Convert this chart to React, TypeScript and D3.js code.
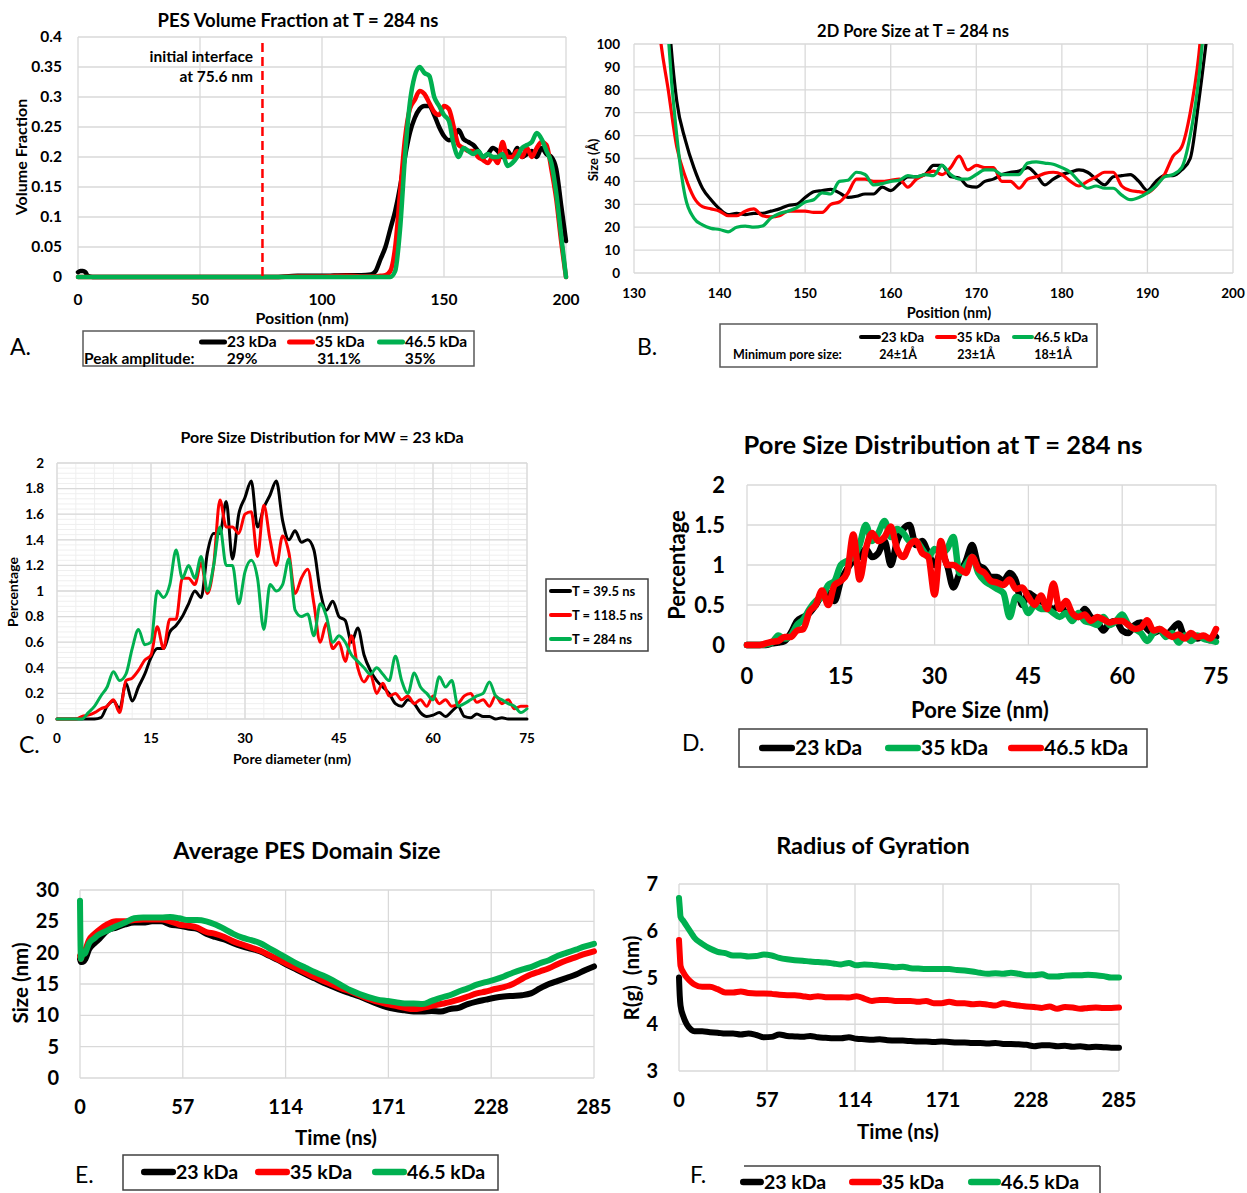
import React from "react";
import * as d3 from "d3";

const FONT = "Lato, 'Open Sans', 'DejaVu Sans', sans-serif";
const C_BLACK = "#000000";
const C_RED = "#ff0000";
const C_GREEN = "#00b050";
const C_GRID = "#d9d9d9";

// ---------------- labels ----------------
const mwLabels = ["23 kDa", "35 kDa", "46.5 kDa"];
const timeLabels = ["T = 39.5 ns", "T = 118.5 ns", "T = 284 ns"];
const peakAmplitude = ["29%", "31.1%", "35%"];
const minPoreSize = ["24±1Å", "23±1Å", "18±1Å"];

// ---------------- Panel A: PES volume fraction ----------------
const posA = [0, 1, 2, 3, 4, 6, 20, 40, 60, 80, 90, 100, 110, 116,
  120, 122, 124, 126, 128, 130, 132, 134, 136, 138,
  140, 142, 144, 146, 148, 150, 152, 154, 156, 158,
  160, 162, 164, 166, 168, 170, 172, 174, 176, 178,
  180, 182, 184, 186, 188, 190, 192, 194, 196, 198, 200];
const volA23 = [0.008, 0.01, 0.01, 0.008, 0.002, 0, 0, 0, 0, 0, 0.002, 0.002, 0.003, 0.003,
  0.004, 0.01, 0.03, 0.05, 0.08, 0.11, 0.15, 0.2, 0.24, 0.265,
  0.28, 0.285, 0.285, 0.27, 0.25, 0.235, 0.228, 0.232, 0.245, 0.23,
  0.225, 0.22, 0.21, 0.2, 0.205, 0.215, 0.21, 0.2, 0.21, 0.2,
  0.215, 0.2, 0.205, 0.21, 0.2, 0.215, 0.205, 0.2, 0.18, 0.12, 0.06];
const volA35 = [0, 0, 0, 0, 0, 0, 0, 0, 0, 0, 0.001, 0.001, 0.002, 0.001,
  0.001, 0.001, 0.002, 0.003, 0.01, 0.05, 0.14, 0.23, 0.28, 0.295,
  0.31, 0.305, 0.29, 0.275, 0.27, 0.285, 0.28, 0.25, 0.22, 0.215,
  0.21, 0.21, 0.2, 0.195, 0.19, 0.2, 0.19, 0.225, 0.2, 0.2,
  0.21, 0.2, 0.215, 0.2, 0.215, 0.225, 0.22, 0.18, 0.13, 0.06, 0];
const volA465 = [0, 0, 0, 0, 0, 0, 0, 0, 0, 0, 0, 0, 0, 0,
  0, 0, 0, 0, 0, 0.01, 0.08, 0.2, 0.29, 0.335,
  0.35, 0.34, 0.335, 0.3, 0.285, 0.27, 0.26, 0.22, 0.2, 0.215,
  0.21, 0.205, 0.21, 0.2, 0.205, 0.2, 0.2, 0.205, 0.185, 0.19,
  0.2, 0.215, 0.22, 0.225, 0.24, 0.23, 0.21, 0.19, 0.14, 0.07, 0];

// ---------------- Panel B: 2D pore size ----------------
const posB = [132, 133, 134, 135, 136, 137, 138, 139, 140, 141,
  142, 143, 144, 145, 146, 147, 148, 149, 150, 151,
  152, 153, 154, 155, 156, 157, 158, 159, 160, 161,
  162, 163, 164, 165, 166, 167, 168, 169, 170, 171,
  172, 173, 174, 175, 176, 177, 178, 179, 180, 181,
  182, 183, 184, 185, 186, 187, 188, 189, 190, 191,
  192, 193, 194, 195, 196, 197];
const poreB23 = [300, 180, 115, 75, 58, 46, 37, 32, 28, 25.5,
  26, 25.5, 26, 26, 27, 28, 29.5, 30, 33, 35.5,
  36, 36.5, 35, 33, 33.5, 34.5, 34.5, 37.5, 36, 39,
  42, 42, 43, 47, 47, 42, 41.5, 38, 37.5, 40,
  41, 43, 44, 44.5, 46, 43, 38.5, 41, 43, 44,
  45, 44, 41, 38.5, 42, 42.5, 43, 40, 36, 40,
  42.5, 42.5, 45, 50, 75, 105];
const poreB35 = [150, 105, 80, 55, 42, 33, 29, 28, 27, 25,
  25, 27, 28, 25, 24.5, 25, 27, 27, 27, 26.5,
  26.5, 30, 31, 35, 41, 41, 40, 40, 40.5, 41,
  37.5, 41, 43, 44.5, 43, 46, 51, 45, 47, 46,
  46, 40, 40, 37, 41, 42, 43.5, 44, 43, 40,
  38, 40, 42, 44, 44, 38, 36, 35.5, 35, 38,
  43, 51, 55, 70, 95, 140];
const poreB465 = [300, 200, 105, 60, 33, 24, 21, 19.5, 19, 18,
  20, 20.5, 20, 20.5, 24, 26, 27, 28.5, 31, 32,
  35, 34.5, 40, 40.5, 44, 43, 38.5, 39, 40, 40.5,
  42.5, 42, 43, 42.5, 47, 43, 41, 41, 43, 45,
  45, 43, 43, 43, 48, 48.5, 48, 47.5, 46, 44,
  40, 37, 38, 37, 37, 34, 32, 33, 35, 38,
  42, 43, 46, 60, 85, 125];

// ---------------- Panel C: pore size distribution, 23 kDa ----------------
const diamC = d3.range(0, 76);
const distC395 = [0, 0, 0, 0, 0, 0, 0, 0.01, 0.1, 0.14,
  0.08, 0.28, 0.14, 0.25, 0.35, 0.48, 0.55, 0.55, 0.68, 0.73,
  0.8, 0.9, 1.0, 0.95, 1.3, 1.45, 1.45, 1.7, 1.25, 1.6,
  1.73, 1.86, 1.5, 1.65, 1.75, 1.86, 1.55, 1.4, 1.47, 1.38,
  1.4, 1.32, 1.0, 0.85, 0.92, 0.8, 0.77, 0.6, 0.71, 0.5,
  0.38, 0.3, 0.25, 0.2, 0.12, 0.1, 0.15, 0.12, 0.05, 0.02,
  0.03, 0.05, 0.02, 0.06, 0.1, 0.02, 0.01, 0.04, 0.02, 0.02,
  0, 0.01, 0, 0, 0, 0];
const distC1185 = [0, 0, 0, 0, 0.02, 0.03, 0.05, 0.08, 0.1, 0.15,
  0.05, 0.3, 0.32, 0.38, 0.46, 0.5, 0.72, 0.55, 0.78, 0.78,
  1.1, 1.1, 1.05, 1.22, 0.98, 1.2, 1.71, 1.5, 1.5, 1.45,
  1.6, 1.62, 1.27, 1.67, 1.4, 1.2, 1.43, 1.3, 0.98, 1.1,
  1.17, 0.9, 0.6, 0.75, 0.55, 0.6, 0.45, 0.65, 0.4, 0.29,
  0.35, 0.2, 0.28, 0.18, 0.2, 0.15, 0.18, 0.12, 0.15, 0.1,
  0.18, 0.12, 0.15, 0.1, 0.12, 0.18, 0.2, 0.13, 0.15, 0.1,
  0.18, 0.12, 0.15, 0.08, 0.1, 0.1];
const distC284 = [0, 0, 0, 0, 0, 0.05, 0.1, 0.18, 0.25, 0.37,
  0.3, 0.35, 0.55, 0.7, 0.58, 0.6, 1.0, 0.95, 1.05, 1.32,
  1.1, 1.2, 1.1, 1.27, 1.0, 1.2, 1.5, 1.2, 1.2, 0.9,
  1.15, 1.24, 1.1, 0.7, 1.05, 1.0, 1.05, 1.25, 0.85, 0.8,
  0.82, 0.65, 0.9, 0.8, 0.6, 0.65, 0.6, 0.5, 0.45, 0.4,
  0.35, 0.4, 0.35, 0.3, 0.49, 0.3, 0.2, 0.36, 0.25, 0.2,
  0.15, 0.33, 0.25, 0.3, 0.1, 0.12, 0.15, 0.18, 0.2, 0.29,
  0.18, 0.15, 0.12, 0.1, 0.05, 0.08];

// ---------------- Panel D: pore size distribution at 284 ns ----------------
const sizeD = d3.range(0, 76);
const distD23 = [0, 0, 0, 0, 0.02, 0.03, 0.05, 0.15, 0.3, 0.35,
  0.4, 0.5, 0.62, 0.65, 0.55, 0.8, 0.95, 1.05, 1.1, 1.2,
  1.1, 1.15, 1.3, 1.0, 1.3, 1.45, 1.5, 1.25, 1.3, 1.15,
  1.0, 1.15, 1.0, 0.72, 0.9, 1.05, 1.25, 1.0, 0.95, 0.85,
  0.85, 0.8, 0.9, 0.8, 0.5, 0.65, 0.6, 0.55, 0.5, 0.45,
  0.5, 0.4, 0.38, 0.35, 0.45, 0.35, 0.3, 0.18, 0.28, 0.3,
  0.18, 0.15, 0.25, 0.28, 0.2, 0.15, 0.18, 0.12, 0.2, 0.27,
  0.1, 0.12, 0.08, 0.1, 0.06, 0.1];
const distD35 = [0, 0, 0, 0.01, 0.03, 0.12, 0.08, 0.12, 0.25, 0.32,
  0.45, 0.55, 0.6, 0.75, 0.8, 1.0, 1.05, 1.1, 1.25, 1.5,
  1.3, 1.4, 1.55, 1.35, 1.45, 1.4, 1.3, 1.3, 1.2, 1.1,
  1.2, 1.15, 1.2, 1.35, 0.9, 1.0, 1.1, 0.9, 0.8, 0.75,
  0.7, 0.65, 0.35, 0.6, 0.55, 0.4, 0.5, 0.45, 0.45, 0.4,
  0.35, 0.4, 0.3, 0.4, 0.3, 0.28, 0.25, 0.35, 0.25, 0.3,
  0.38, 0.25, 0.2, 0.15, 0.05, 0.15, 0.2, 0.1, 0.15, 0.03,
  0.12, 0.05, 0.12, 0.08, 0.06, 0.04];
const distD465 = [0, 0, 0, 0.02, 0.04, 0.05, 0.1, 0.1, 0.18, 0.2,
  0.42, 0.5, 0.68, 0.5, 0.75, 0.8, 0.9, 1.38, 0.82, 1.2,
  1.4, 1.3, 1.35, 1.48, 1.2, 1.1, 1.25, 1.3, 1.15, 1.1,
  0.63, 1.3, 1.0, 1.0, 0.95, 0.9, 1.1, 0.95, 0.9, 0.8,
  0.78, 0.75, 0.82, 0.7, 0.72, 0.6, 0.5, 0.62, 0.45, 0.77,
  0.45, 0.55, 0.4, 0.35, 0.38, 0.3, 0.35, 0.32, 0.28, 0.3,
  0.3, 0.25, 0.2, 0.22, 0.31, 0.18, 0.2, 0.15, 0.1, 0.13,
  0.08, 0.15, 0.1, 0.12, 0.08, 0.2];

// ---------------- Panels E & F: time series ----------------
const timeNs = [0, 0.5, 1, 3, 5, 8, 10, 15, 20, 25,
  30, 35, 40, 45, 50, 55, 60, 65, 70, 75,
  80, 85, 90, 95, 100, 105, 110, 115, 120, 125,
  130, 135, 140, 145, 150, 155, 160, 165, 170, 175,
  180, 185, 190, 195, 200, 205, 210, 215, 220, 225,
  230, 235, 240, 245, 250, 255, 260, 265, 270, 275,
  280, 285];
const domainE23 = [19, 18.5, 18.5, 19, 20.5, 21.5, 22, 23.5, 24, 24.5,
  24.8, 24.8, 25, 25, 24.5, 24.3, 24, 23.8, 23, 22.5,
  22.1, 21.5, 21, 20.6, 20.2, 19.5, 18.8, 18, 17.3, 16.6,
  15.9, 15.2, 14.6, 14, 13.5, 13, 12.4, 11.8, 11.3, 11,
  10.8, 10.6, 10.6, 10.7, 10.6, 11, 11.2, 11.8, 12.2, 12.5,
  12.8, 13, 13.1, 13.2, 13.5, 14.3, 15, 15.5, 16, 16.5,
  17.2, 17.8];
const domainE35 = [19.5, 19, 19.5, 20.5, 22, 23, 23.5, 24.5, 25, 25,
  25.2, 25.3, 25.3, 25.3, 25, 24.5, 24.3, 24, 23.3, 23,
  22.5, 21.8, 21.3, 20.8, 20.3, 19.6, 18.9, 18.2, 17.5, 16.8,
  16.1, 15.5, 14.9, 14.3, 13.8, 13.2, 12.6, 12.2, 11.8, 11.5,
  11.2, 11, 11.2, 11.5, 11.8, 12.1, 12.5, 13, 13.5, 13.8,
  14.2, 14.5, 15, 15.8, 16.5, 17, 17.5, 18.2, 18.8, 19.3,
  19.8, 20.2];
const domainE465 = [28.3, 19, 19.5, 20, 21.5, 22.3, 22.8, 23.5, 24.2, 24.8,
  25.5, 25.6, 25.6, 25.6, 25.7, 25.5, 25.2, 25.2, 25, 24.5,
  23.8, 23, 22.4, 22, 21.5, 20.7, 19.9, 19.1, 18.3, 17.6,
  16.9, 16.3, 15.6, 14.8, 14, 13.4, 12.9, 12.5, 12.3, 12.1,
  11.9, 11.9, 11.8, 12.3, 12.8, 13.2, 13.8, 14.3, 14.9, 15.3,
  15.7, 16.2, 16.8, 17.3, 17.7, 18.3, 18.8, 19.5, 20, 20.5,
  21, 21.4];
const rgF23 = [5.0, 4.6, 4.4, 4.15, 4.0, 3.88, 3.85, 3.85, 3.83, 3.82,
  3.8, 3.8, 3.78, 3.8, 3.77, 3.72, 3.73, 3.78, 3.75, 3.74,
  3.73, 3.75, 3.72, 3.71, 3.7, 3.7, 3.72, 3.69, 3.68, 3.67,
  3.68, 3.66, 3.65, 3.65, 3.64, 3.63, 3.63, 3.62, 3.63, 3.62,
  3.61, 3.61, 3.6, 3.6, 3.59, 3.6, 3.58, 3.58, 3.57, 3.56,
  3.53, 3.55, 3.55, 3.53, 3.54, 3.52, 3.53, 3.51, 3.52, 3.51,
  3.5, 3.5];
const rgF35 = [5.8, 5.5, 5.25, 5.1, 5.0, 4.9, 4.85, 4.8, 4.8, 4.75,
  4.68, 4.68, 4.7, 4.67, 4.66, 4.66, 4.65, 4.63, 4.62, 4.62,
  4.6, 4.58, 4.6, 4.58, 4.58, 4.58, 4.57, 4.6, 4.55, 4.5,
  4.52, 4.52, 4.5, 4.5, 4.5, 4.48, 4.5, 4.45, 4.45, 4.48,
  4.45, 4.45, 4.43, 4.44, 4.42, 4.4, 4.45, 4.42, 4.4, 4.38,
  4.37, 4.35, 4.38, 4.33, 4.37, 4.36, 4.33, 4.35, 4.36, 4.35,
  4.35, 4.36];
const rgF465 = [6.7, 6.5, 6.3, 6.2, 6.1, 5.95, 5.85, 5.72, 5.62, 5.55,
  5.52, 5.47, 5.47, 5.45, 5.46, 5.49, 5.47, 5.42, 5.39, 5.37,
  5.36, 5.34, 5.33, 5.32, 5.3, 5.28, 5.31, 5.26, 5.28, 5.27,
  5.25, 5.24, 5.22, 5.23, 5.2, 5.19, 5.18, 5.18, 5.18, 5.18,
  5.16, 5.15, 5.13, 5.1, 5.08, 5.09, 5.08, 5.1, 5.08, 5.05,
  5.05, 5.07, 5.02, 5.02, 5.04, 5.05, 5.05, 5.06, 5.05, 5.03,
  5.0, 5.0];

// ---------------- tick values ----------------
const ticksA_x = [0, 50, 100, 150, 200];
const ticksA_y = [0, 0.05, 0.1, 0.15, 0.2, 0.25, 0.3, 0.35, 0.4];
const ticksB_x = [130, 140, 150, 160, 170, 180, 190, 200];
const ticksB_y = [0, 10, 20, 30, 40, 50, 60, 70, 80, 90, 100];
const ticksCD_x = [0, 15, 30, 45, 60, 75];
const ticksC_y = [0, 0.2, 0.4, 0.6, 0.8, 1, 1.2, 1.4, 1.6, 1.8, 2];
const ticksD_y = [0, 0.5, 1, 1.5, 2];
const ticksEF_x = [0, 57, 114, 171, 228, 285];
const ticksE_y = [0, 5, 10, 15, 20, 25, 30];
const ticksF_y = [3, 4, 5, 6, 7];

type Series = { xs: number[]; ys: number[]; color: string };
type PlotCfg = {
  id: string;
  box: [number, number, number, number];
  xDomain: [number, number];
  yDomain: [number, number];
  xTicks: number[];
  yTicks: number[];
  xMinor?: number[];
  yMinor?: number[];
  series: Series[];
  lw: number;
  fs: number;
  xLabelY: number;
  yLabelX: number;
};

function Plot({ cfg }: { cfg: PlotCfg }) {
  const [l, t, r, b] = cfg.box;
  const x = d3.scaleLinear().domain(cfg.xDomain).range([l, r]);
  const y = d3.scaleLinear().domain(cfg.yDomain).range([b, t]);
  const path = (s: Series) =>
    d3
      .line<number>()
      .x((_, i) => x(s.xs[i]))
      .y((d) => y(d))
      .curve(d3.curveMonotoneX)(s.ys) || "";
  return (
    <g>
      <defs>
        <clipPath id={cfg.id}>
          <rect x={l - 10} y={t} width={r - l + 20} height={b - t + 12} />
        </clipPath>
      </defs>
      {(cfg.xMinor || []).map((v) => (
        <line key={"xm" + v} x1={x(v)} x2={x(v)} y1={t} y2={b} stroke="#efefef" strokeWidth={1} />
      ))}
      {(cfg.yMinor || []).map((v) => (
        <line key={"ym" + v} x1={l} x2={r} y1={y(v)} y2={y(v)} stroke="#efefef" strokeWidth={1} />
      ))}
      {cfg.yTicks.map((v) => (
        <line key={"yg" + v} x1={l} x2={r} y1={y(v)} y2={y(v)} stroke={C_GRID} strokeWidth={1.3} />
      ))}
      {cfg.xTicks.map((v) => (
        <line key={"xg" + v} x1={x(v)} x2={x(v)} y1={t} y2={b} stroke={C_GRID} strokeWidth={1.3} />
      ))}
      <g clipPath={`url(#${cfg.id})`}>
        {cfg.series.map((s, i) => (
          <path key={i} d={path(s)} fill="none" stroke={s.color} strokeWidth={cfg.lw}
            strokeLinejoin="round" strokeLinecap="round" />
        ))}
      </g>
      {cfg.yTicks.map((v) => (
        <text key={"yl" + v} x={cfg.yLabelX} y={y(v)} dy="0.35em" textAnchor="end"
          fontFamily={FONT} fontWeight={700} fontSize={cfg.fs}>{String(v)}</text>
      ))}
      {cfg.xTicks.map((v) => (
        <text key={"xl" + v} x={x(v)} y={cfg.xLabelY} textAnchor="middle"
          fontFamily={FONT} fontWeight={700} fontSize={cfg.fs}>{String(v)}</text>
      ))}
    </g>
  );
}

function Txt(props: any) {
  const { children, size, weight, ...rest } = props;
  return (
    <text fontFamily={FONT} fontWeight={weight ?? 700} fontSize={size} fill="#000" {...rest}>
      {children}
    </text>
  );
}

function VTxt({ x, y, size, children }: any) {
  return (
    <text transform={`translate(${x},${y}) rotate(-90)`} textAnchor="middle" dy="0.35em"
      fontFamily={FONT} fontWeight={700} fontSize={size} style={{ whiteSpace: "pre" }}>
      {children}
    </text>
  );
}

function Swatch({ x1, x2, y, color, w }: any) {
  return <line x1={x1 + w / 2} x2={x2 - w / 2} y1={y} y2={y} stroke={color} strokeWidth={w} strokeLinecap="round" />;
}

function LegItem({ x1, x2, y, color, w, text, size }: any) {
  return (
    <g>
      <Swatch x1={x1} x2={x2} y={y} color={color} w={w} />
      <Txt x={x2} y={y} dy="0.35em" size={size}>{text}</Txt>
    </g>
  );
}

export default function App() {
  const cfgA: PlotCfg = {
    id: "clipA", box: [78, 37, 566, 277], xDomain: [0, 200], yDomain: [0, 0.4],
    xTicks: ticksA_x, yTicks: ticksA_y,
    series: [
      { xs: posA, ys: volA23, color: C_BLACK },
      { xs: posA, ys: volA35, color: C_RED },
      { xs: posA, ys: volA465, color: C_GREEN },
    ],
    lw: 4.5, fs: 15.5, xLabelY: 304.5, yLabelX: 62,
  };
  const cfgB: PlotCfg = {
    id: "clipB", box: [634, 44, 1233, 273], xDomain: [130, 200], yDomain: [0, 100],
    xTicks: ticksB_x, yTicks: ticksB_y,
    series: [
      { xs: posB, ys: poreB23, color: C_BLACK },
      { xs: posB, ys: poreB35, color: C_RED },
      { xs: posB, ys: poreB465, color: C_GREEN },
    ],
    lw: 3.2, fs: 13.5, xLabelY: 298, yLabelX: 620,
  };
  const cfgC: PlotCfg = {
    id: "clipC", box: [57, 463, 527, 719], xDomain: [0, 75], yDomain: [0, 2],
    xTicks: ticksCD_x, yTicks: ticksC_y,
    xMinor: d3.range(0, 76, 3), yMinor: d3.range(0, 2.001, 0.04),
    series: [
      { xs: diamC, ys: distC395, color: C_BLACK },
      { xs: diamC, ys: distC1185, color: C_RED },
      { xs: diamC, ys: distC284, color: C_GREEN },
    ],
    lw: 3, fs: 13.5, xLabelY: 743, yLabelX: 44,
  };
  const cfgD: PlotCfg = {
    id: "clipD", box: [747, 485, 1216, 645], xDomain: [0, 75], yDomain: [0, 2],
    xTicks: ticksCD_x, yTicks: ticksD_y,
    series: [
      { xs: sizeD, ys: distD23, color: C_BLACK },
      { xs: sizeD, ys: distD35, color: C_GREEN },
      { xs: sizeD, ys: distD465, color: C_RED },
    ],
    lw: 6.5, fs: 22, xLabelY: 684, yLabelX: 725,
  };
  const cfgE: PlotCfg = {
    id: "clipE", box: [80, 890, 594, 1078], xDomain: [0, 285], yDomain: [0, 30],
    xTicks: ticksEF_x, yTicks: ticksE_y,
    series: [
      { xs: timeNs, ys: domainE23, color: C_BLACK },
      { xs: timeNs, ys: domainE35, color: C_RED },
      { xs: timeNs, ys: domainE465, color: C_GREEN },
    ],
    lw: 6, fs: 20, xLabelY: 1114, yLabelX: 59,
  };
  const cfgF: PlotCfg = {
    id: "clipF", box: [679, 884, 1119, 1071], xDomain: [0, 285], yDomain: [3, 7],
    xTicks: ticksEF_x, yTicks: ticksF_y,
    series: [
      { xs: timeNs, ys: rgF23, color: C_BLACK },
      { xs: timeNs, ys: rgF35, color: C_RED },
      { xs: timeNs, ys: rgF465, color: C_GREEN },
    ],
    lw: 6, fs: 20, xLabelY: 1107, yLabelX: 658,
  };

  const xA = d3.scaleLinear().domain([0, 200]).range([78, 566]);
  const colors3 = [C_BLACK, C_RED, C_GREEN];
  const colorsD = [C_BLACK, C_GREEN, C_RED];

  return (
    <svg width={1247} height={1193} style={{ position: "absolute", left: 0, top: 0, background: "#fff" }}>
      <rect x={0} y={0} width={1247} height={1193} fill="#fff" />

      {/* ---------- Panel A ---------- */}
      <Txt x={298} y={26.5} size={18.5} textAnchor="middle">PES Volume Fraction at T = 284 ns</Txt>
      <Plot cfg={cfgA} />
      <line x1={xA(75.6)} x2={xA(75.6)} y1={43} y2={277} stroke={C_RED} strokeWidth={2.5} strokeDasharray="9 5" />
      <Txt x={253} y={62} size={15.5} textAnchor="end">initial interface</Txt>
      <Txt x={253} y={82} size={15.5} textAnchor="end">at 75.6 nm</Txt>
      <VTxt x={21} y={157} size={16}>Volume Fraction</VTxt>
      <Txt x={302} y={323.5} size={16} textAnchor="middle">Position (nm)</Txt>
      <rect x={83} y={331} width={391} height={35} fill="none" stroke="#595959" strokeWidth={1.5} />
      {[199, 287, 377].map((x1, i) => (
        <LegItem key={i} x1={x1} x2={x1 + 28} y={342} color={colors3[i]} w={5} text={mwLabels[i]} size={15.5} />
      ))}
      <Txt x={84} y={363.5} size={15.5}>Peak amplitude:</Txt>
      {[242, 339, 420].map((cx, i) => (
        <Txt key={i} x={cx} y={363.5} size={15.5} textAnchor="middle">{peakAmplitude[i]}</Txt>
      ))}
      <Txt x={10} y={355} size={23} weight={400}>A.</Txt>

      {/* ---------- Panel B ---------- */}
      <Txt x={913} y={37} size={16.5} textAnchor="middle">2D Pore Size at T = 284 ns</Txt>
      <Plot cfg={cfgB} />
      <VTxt x={593} y={160} size={13}>Size (Å)</VTxt>
      <Txt x={949} y={318} size={14.5} textAnchor="middle">Position (nm)</Txt>
      <rect x={720} y={324} width={377} height={43} fill="none" stroke="#595959" strokeWidth={1.5} />
      {[859, 935, 1012].map((x1, i) => (
        <LegItem key={i} x1={x1} x2={x1 + 22} y={337} color={colors3[i]} w={4} text={mwLabels[i]} size={13.5} />
      ))}
      <Txt x={733} y={358.5} size={12.5}>Minimum pore size:</Txt>
      {[898, 976, 1053].map((cx, i) => (
        <Txt key={i} x={cx} y={358.5} size={12.5} textAnchor="middle">{minPoreSize[i]}</Txt>
      ))}
      <Txt x={637} y={355} size={23} weight={400}>B.</Txt>

      {/* ---------- Panel C ---------- */}
      <Txt x={322} y={442.5} size={16} textAnchor="middle">Pore Size Distribution for MW = 23 kDa</Txt>
      <Plot cfg={cfgC} />
      <VTxt x={13} y={592} size={14}>Percentage</VTxt>
      <Txt x={292} y={764} size={14} textAnchor="middle">Pore diameter (nm)</Txt>
      <rect x={546} y={579} width={102} height={72} fill="none" stroke="#404040" strokeWidth={1.5} />
      {[591, 615, 639].map((cy, i) => (
        <LegItem key={i} x1={549} x2={572} y={cy} color={colors3[i]} w={4} text={timeLabels[i]} size={13} />
      ))}
      <Txt x={19} y={753} size={23} weight={400}>C.</Txt>

      {/* ---------- Panel D ---------- */}
      <Txt x={943} y={454} size={25.5} textAnchor="middle">Pore Size Distribution at T = 284 ns</Txt>
      <Plot cfg={cfgD} />
      <VTxt x={677} y={565} size={22}>Percentage</VTxt>
      <Txt x={980} y={718} size={22} textAnchor="middle">Pore Size (nm)</Txt>
      <rect x={739} y={729} width={408} height={38} fill="none" stroke="#404040" strokeWidth={1.5} />
      {[759, 885, 1008].map((x1, i) => (
        <LegItem key={i} x1={x1} x2={x1 + 36} y={748} color={colorsD[i]} w={6.5} text={mwLabels[i]} size={21} />
      ))}
      <Txt x={682} y={751} size={23} weight={400}>D.</Txt>

      {/* ---------- Panel E ---------- */}
      <Txt x={307} y={859} size={23.5} textAnchor="middle">Average PES Domain Size</Txt>
      <Plot cfg={cfgE} />
      <VTxt x={21} y={983} size={20.5}>Size (nm)</VTxt>
      <Txt x={336} y={1145} size={20.5} textAnchor="middle">Time (ns)</Txt>
      <rect x={123} y={1155} width={375} height={35} fill="none" stroke="#404040" strokeWidth={1.5} />
      {[141, 255, 372].map((x1, i) => (
        <LegItem key={i} x1={x1} x2={x1 + 35} y={1172} color={colors3[i]} w={6.5} text={mwLabels[i]} size={19.5} />
      ))}
      <Txt x={75} y={1183} size={23} weight={400}>E.</Txt>

      {/* ---------- Panel F ---------- */}
      <Txt x={873} y={854} size={23.5} textAnchor="middle">Radius of Gyration</Txt>
      <Plot cfg={cfgF} />
      <VTxt x={632} y={978} size={20.5}>R(g)  (nm)</VTxt>
      <Txt x={898} y={1139} size={20.5} textAnchor="middle">Time (ns)</Txt>
      <line x1={744} x2={1100} y1={1166} y2={1166} stroke="#404040" strokeWidth={1.5} />
      <line x1={1100} x2={1100} y1={1166} y2={1193} stroke="#404040" strokeWidth={1.5} />
      {[740, 849, 968].map((x1, i) => (
        <LegItem key={i} x1={x1} x2={i === 0 ? 764 : x1 + 33} y={1182} color={colors3[i]} w={6.5} text={mwLabels[i]} size={19.5} />
      ))}
      <Txt x={690} y={1183} size={23} weight={400}>F.</Txt>
    </svg>
  );
}
